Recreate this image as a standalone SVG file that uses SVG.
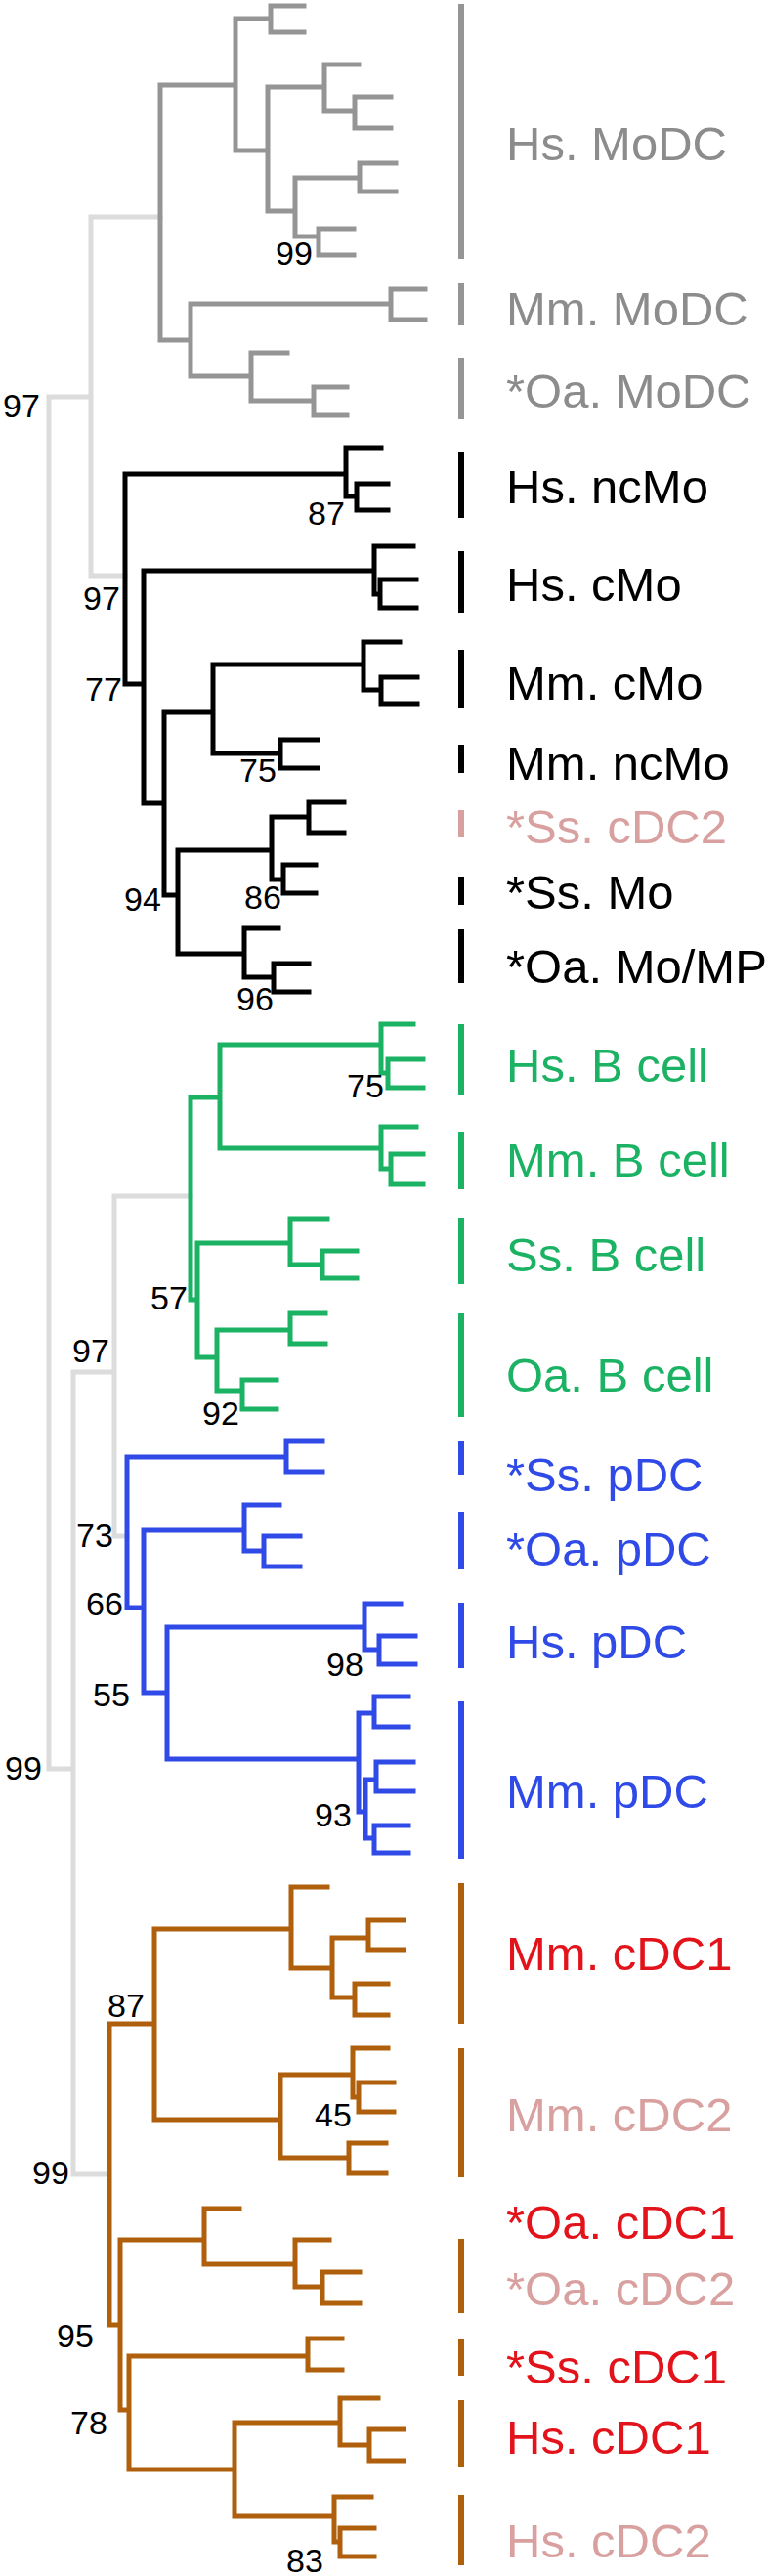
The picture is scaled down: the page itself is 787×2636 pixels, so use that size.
<svg xmlns="http://www.w3.org/2000/svg" width="787" height="2636" viewBox="0 0 787 2636">
<style>
.t{fill:none;stroke-width:5;stroke-linecap:square;stroke-linejoin:miter}
.lg{stroke:#dcdcdc}.gy{stroke:#959595}.bk{stroke:#000}.gr{stroke:#1bb264}.bl{stroke:#2f4ae6}.br{stroke:#b0600c}
.bs{font-family:"Liberation Sans",Arial,sans-serif;font-size:34px;fill:#000}
.lb{font-family:"Liberation Sans",Arial,sans-serif;font-size:49px}
.bar{stroke-width:6;fill:none}
</style>
<rect width="787" height="2636" fill="#fff"/>
<g id="connectors">
<path class="t lg" d="M93 222 H164 M93 222 V589 H128 M50 406 H93 M50 406 V1810 H75 M75 1404 V2225 H110 M75 1404 H117 M117 1224 V1572 H130 M117 1224 H195"/>
<path id="modc" class="t gy" d="M164 87 V348 M164 87 H241 M241 19 V154 M241 19 H277 M311 6 H277 V33 H311 M241 154 H274 M274 89 V216 M274 89 H332 M367 66 H332 V114 H363 M400 99 H363 V131 H400 M274 216 H302 M302 182 V242 M302 182 H368 M405 167 H368 V196 H405 M302 242 H326 M362 234 H326 V261 H362 M164 348 H195 M195 311 V385 M195 311 H400 M435 296 H400 V327 H435 M195 385 H257 M294 361 H257 V410 H321 M355 396 H321 V425 H355"/>
<path id="mo" class="t bk" d="M128 485 V700 H147 M128 485 H354 M390 458 H354 V508 H365 M397 495 H365 V522 H397 M147 584 V822 H168 M147 584 H383 M423 559 H383 V608 H389 M426 593 H389 V622 H426 M168 729 V916 M168 729 H218 M218 680 V771 M218 680 H372 M409 657 H372 V706 H390 M427 693 H390 V720 H427 M218 771 H287 M325 757 H287 V786 H325 M168 916 H182 M182 870 V976 M182 870 H278 M278 836 V900 M278 836 H316 M352 821 H316 V852 H352 M278 900 H290 M323 885 H290 V914 H323 M182 976 H250 M285 950 H250 V1000 H280 M316 986 H280 V1015 H316"/>
<path id="bcell" class="t gr" d="M195 1123 V1330 H202 M195 1123 H225 M225 1069 V1175 M225 1069 H390 M423 1048 H390 V1098 H397 M433 1084 H397 V1113 H433 M225 1175 H390 M426 1153 H390 V1196 H400 M433 1181 H400 V1212 H433 M202 1272 V1389 M202 1272 H297 M335 1247 H297 V1294 H330 M365 1280 H330 V1308 H365 M202 1389 H222 M222 1361 V1423 M222 1361 H297 M333 1344 H297 V1375 H333 M222 1423 H248 M283 1412 H248 V1442 H283"/>
<path id="pdc" class="t bl" d="M130 1491 V1645 H147 M130 1491 H293 M330 1475 H293 V1506 H330 M147 1566 V1732 M147 1566 H250 M286 1540 H250 V1587 H270 M307 1572 H270 V1603 H307 M147 1732 H171 M171 1665 V1800 M171 1665 H373 M410 1641 H373 V1688 H388 M425 1674 H388 V1703 H425 M171 1800 H367 M367 1753 V1854 M367 1753 H383 M418 1736 H383 V1767 H418 M367 1854 H374 M374 1821 V1881 M374 1821 H385 M423 1803 H385 V1833 H423 M374 1881 H383 M418 1868 H383 V1896 H418"/>
<path id="cdc" class="t br" d="M112 2071 V2379 H123 M112 2071 H158 M158 1974 V2169 M158 1974 H298 M335 1931 H298 V2014 H340 M340 1983 V2044 M340 1983 H377 M413 1965 H377 V1995 H413 M340 2044 H363 M397 2030 H363 V2062 H397 M158 2169 H287 M287 2123 V2208 M287 2123 H361 M397 2096 H361 V2146 H367 M403 2131 H367 V2161 H403 M287 2208 H357 M395 2193 H357 V2224 H395 M123 2292 V2466 M123 2292 H209 M245 2260 H209 V2317 H302 M337 2292 H302 V2340 H330 M368 2325 H330 V2357 H368 M123 2466 H132 M132 2411 V2527 M132 2411 H315 M350 2393 H315 V2425 H350 M132 2527 H240 M240 2479 V2575 M240 2479 H348 M387 2454 H348 V2502 H378 M413 2486 H378 V2518 H413 M240 2575 H342 M380 2555 H342 V2601 H348 M383 2587 H348 V2616 H383"/>
</g>
<g id="bootstrap" class="bs">
<text x="3" y="427">97</text><text x="85" y="624">97</text><text x="282" y="271">99</text>
<text x="315" y="537">87</text><text x="87" y="717">77</text><text x="245" y="800">75</text>
<text x="127" y="932">94</text><text x="250" y="930">86</text><text x="242" y="1034">96</text>
<text x="355" y="1123">75</text><text x="154" y="1340">57</text><text x="74" y="1394">97</text>
<text x="207" y="1458">92</text><text x="78" y="1583">73</text><text x="88" y="1653">66</text>
<text x="95" y="1746">55</text><text x="334" y="1715">98</text><text x="322" y="1869">93</text>
<text x="5" y="1821">99</text><text x="110" y="2064">87</text><text x="33" y="2235">99</text>
<text x="322" y="2176">45</text><text x="58" y="2402">95</text><text x="72" y="2491">78</text>
<text x="293" y="2632">83</text>
</g>
<g id="n-hs-modc"><path class="bar gy" d="M472 4 V265"/><text class="lb" x="518" y="164" fill="#8c8c8c">Hs. MoDC</text></g>
<g id="n-mm-modc"><path class="bar gy" d="M472 290 V333"/><text class="lb" x="518" y="333" fill="#8c8c8c">Mm. MoDC</text></g>
<g id="n-oa-modc"><path class="bar gy" d="M472 366 V429"/><text class="lb" x="518" y="417" fill="#8c8c8c">*Oa. MoDC</text></g>
<g id="n-hs-ncmo"><path class="bar bk" d="M472 463 V530"/><text class="lb" x="518" y="515" fill="#000">Hs. ncMo</text></g>
<g id="n-hs-cmo"><path class="bar bk" d="M472 564 V627"/><text class="lb" x="518" y="615" fill="#000">Hs. cMo</text></g>
<g id="n-mm-cmo"><path class="bar bk" d="M472 665 V724"/><text class="lb" x="518" y="716" fill="#000">Mm. cMo</text></g>
<g id="n-mm-ncmo"><path class="bar bk" d="M472 762 V791"/><text class="lb" x="518" y="798" fill="#000">Mm. ncMo</text></g>
<g id="n-ss-cdc2"><path class="bar" stroke="#d9a0a0" d="M472 829 V857"/><text class="lb" x="518" y="863" fill="#d9a0a0">*Ss. cDC2</text></g>
<g id="n-ss-mo"><path class="bar bk" d="M472 897 V926"/><text class="lb" x="518" y="930" fill="#000">*Ss. Mo</text></g>
<g id="n-oa-mo"><path class="bar bk" d="M472 951 V1006"/><text class="lb" x="518" y="1006" fill="#000">*Oa. Mo/MP</text></g>
<g id="n-hs-b"><path class="bar gr" d="M472 1048 V1120"/><text class="lb" x="518" y="1107" fill="#1bb264">Hs. B cell</text></g>
<g id="n-mm-b"><path class="bar gr" d="M472 1158 V1217"/><text class="lb" x="518" y="1204" fill="#1bb264">Mm. B cell</text></g>
<g id="n-ss-b"><path class="bar gr" d="M472 1246 V1314"/><text class="lb" x="518" y="1301" fill="#1bb264">Ss. B cell</text></g>
<g id="n-oa-b"><path class="bar gr" d="M472 1344 V1450"/><text class="lb" x="518" y="1424" fill="#1bb264">Oa. B cell</text></g>
<g id="n-ss-pdc"><path class="bar bl" d="M472 1475 V1509"/><text class="lb" x="518" y="1526" fill="#2f4ae6">*Ss. pDC</text></g>
<g id="n-oa-pdc"><path class="bar bl" d="M472 1547 V1606"/><text class="lb" x="518" y="1602" fill="#2f4ae6">*Oa. pDC</text></g>
<g id="n-hs-pdc"><path class="bar bl" d="M472 1640 V1707"/><text class="lb" x="518" y="1697" fill="#2f4ae6">Hs. pDC</text></g>
<g id="n-mm-pdc"><path class="bar bl" d="M472 1741 V1902"/><text class="lb" x="518" y="1850" fill="#2f4ae6">Mm. pDC</text></g>
<g id="n-mm-cdc1"><path class="bar br" d="M472 1927 V2071"/><text class="lb" x="518" y="2016" fill="#e3131b">Mm. cDC1</text></g>
<g id="n-mm-cdc2"><path class="bar br" d="M472 2096 V2228"/><text class="lb" x="518" y="2181" fill="#d9a0a0">Mm. cDC2</text></g>
<g id="n-oa-cdc1"><text class="lb" x="518" y="2291" fill="#e3131b">*Oa. cDC1</text></g>
<g id="n-oa-cdc2"><path class="bar br" d="M472 2291 V2367"/><text class="lb" x="518" y="2359" fill="#d9a0a0">*Oa. cDC2</text></g>
<g id="n-ss-cdc1"><path class="bar br" d="M472 2393 V2431"/><text class="lb" x="518" y="2439" fill="#e3131b">*Ss. cDC1</text></g>
<g id="n-hs-cdc1"><path class="bar br" d="M472 2456 V2524"/><text class="lb" x="518" y="2511" fill="#e3131b">Hs. cDC1</text></g>
<g id="n-hs-cdc2"><path class="bar br" d="M472 2553 V2625"/><text class="lb" x="518" y="2617" fill="#d9a0a0">Hs. cDC2</text></g>
</svg>
